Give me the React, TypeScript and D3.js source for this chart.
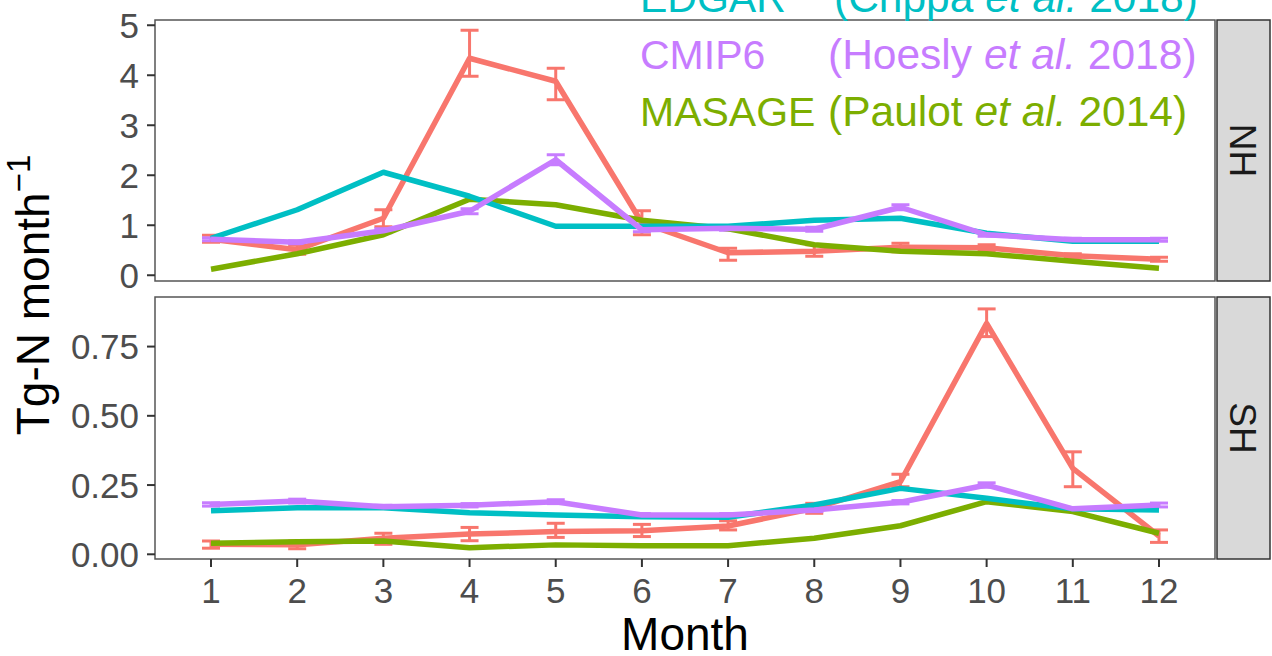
import React from 'react';
import * as d3 from 'd3';

const width = 1272;
const height = 656;
const margin = { left: 155, right: 57, top: 20 };
const panelRight = 1215;
const stripW = 53;

// months on the x axis
const months = [1, 2, 3, 4, 5, 6, 7, 8, 9, 10, 11, 12];

// Northern hemisphere (Tg-N month-1)
const nhRed = [0.72, 0.51, 1.14, 4.34, 3.88, 1.05, 0.45, 0.48, 0.56, 0.55, 0.39, 0.32];
const nhRedLo = [0.66, 0.42, 0.97, 3.98, 3.51, 0.81, 0.3, 0.38, 0.47, 0.48, 0.35, 0.28];
const nhRedHi = [0.8, 0.6, 1.31, 4.9, 4.14, 1.29, 0.54, 0.61, 0.64, 0.61, 0.43, 0.36];
const nhMasage = [0.12, 0.43, 0.81, 1.52, 1.41, 1.1, 0.93, 0.61, 0.48, 0.43, 0.28, 0.14];
const nhEdgar = [0.74, 1.31, 2.06, 1.58, 0.98, 0.98, 0.98, 1.1, 1.14, 0.84, 0.68, 0.68];
const nhCmip6 = [0.72, 0.66, 0.89, 1.28, 2.31, 0.91, 0.94, 0.92, 1.36, 0.81, 0.71, 0.71];
const nhCmip6Err = [0.03, 0.03, 0.04, 0.05, 0.1, 0.04, 0.04, 0.04, 0.05, 0.03, 0.03, 0.03];

// Southern hemisphere
const shRed = [0.036, 0.034, 0.058, 0.073, 0.082, 0.085, 0.102, 0.166, 0.262, 0.834, 0.31, 0.066];
const shRedLo = [0.022, 0.02, 0.036, 0.049, 0.061, 0.064, 0.088, 0.148, 0.244, 0.786, 0.244, 0.043];
const shRedHi = [0.048, 0.048, 0.076, 0.097, 0.112, 0.108, 0.121, 0.184, 0.289, 0.886, 0.37, 0.088];
const shMasage = [0.04, 0.045, 0.048, 0.024, 0.034, 0.031, 0.031, 0.058, 0.103, 0.19, 0.154, 0.076];
const shEdgar = [0.157, 0.168, 0.168, 0.15, 0.142, 0.136, 0.134, 0.178, 0.238, 0.202, 0.164, 0.16];
const shCmip6 = [0.18, 0.192, 0.172, 0.177, 0.19, 0.142, 0.142, 0.16, 0.188, 0.25, 0.164, 0.178];
const shCmip6Err = [0.006, 0.007, 0.005, 0.006, 0.007, 0.005, 0.005, 0.006, 0.006, 0.008, 0.005, 0.007];

const nhTicks = [0, 1, 2, 3, 4, 5];
const shTicks = [0, 0.25, 0.5, 0.75];

const colors = { red: '#F8766D', green: '#7CAE00', cyan: '#00BFC4', purple: '#C77CFF' };

const legendRows = [
  { name: 'EDGAR', author: 'Crippa', year: '2018', color: colors.cyan, cx: 834 },
  { name: 'CMIP6', author: 'Hoesly', year: '2018', color: colors.purple, cx: 828 },
  { name: 'MASAGE', author: 'Paulot', year: '2014', color: colors.green, cx: 828 }
];

const font = 'Liberation Sans, Arial, sans-serif';

const x = d3.scaleLinear().domain([0.35, 12.65]).range([margin.left, panelRight]);

function Panel({ top, bottom, domain, ticks, fmt, label, red, redLo, redHi, masage, edgar, cmip6, cmip6Err }) {
  const y = d3.scaleLinear().domain(domain).range([bottom, top]);
  const line = d3
    .line<number>()
    .x((d, i) => x(months[i]))
    .y(d => y(d));
  const half = 9;
  const series = [
    { v: red, c: colors.red },
    { v: masage, c: colors.green },
    { v: edgar, c: colors.cyan },
    { v: cmip6, c: colors.purple }
  ];
  const bars = [
    ...months.map((m, i) => ({ m, lo: redLo[i], hi: redHi[i], c: colors.red })),
    ...months.map((m, i) => ({ m, lo: cmip6[i] - cmip6Err[i], hi: cmip6[i] + cmip6Err[i], c: colors.purple }))
  ];
  return (
    <g>
      <rect x={margin.left} y={top} width={panelRight - margin.left} height={bottom - top} fill="white" />
      {bars.map((b, i) => (
        <g key={'e' + i} stroke={b.c} strokeWidth={3} fill="none">
          <line x1={x(b.m)} x2={x(b.m)} y1={y(b.lo)} y2={y(b.hi)} />
          <line x1={x(b.m) - half} x2={x(b.m) + half} y1={y(b.lo)} y2={y(b.lo)} />
          <line x1={x(b.m) - half} x2={x(b.m) + half} y1={y(b.hi)} y2={y(b.hi)} />
        </g>
      ))}
      {series.map((s, i) => (
        <path key={'l' + i} d={line(s.v)} fill="none" stroke={s.c} strokeWidth={5.5} strokeLinejoin="round" />
      ))}
      <rect
        x={margin.left}
        y={top}
        width={panelRight - margin.left}
        height={bottom - top}
        fill="none"
        stroke="#555"
        strokeWidth={1.5}
      />
      {ticks.map(t => (
        <g key={'t' + t}>
          <line x1={margin.left - 8} x2={margin.left} y1={y(t)} y2={y(t)} stroke="#333" strokeWidth={2} />
          <text
            x={margin.left - 16}
            y={y(t)}
            dy="0.36em"
            textAnchor="end"
            fontSize={35}
            fill="#4d4d4d"
            fontFamily={font}
          >
            {fmt(t)}
          </text>
        </g>
      ))}
      <rect
        x={panelRight + 2}
        y={top}
        width={stripW}
        height={bottom - top}
        fill="#d9d9d9"
        stroke="#333"
        strokeWidth={1.5}
      />
      <text
        transform={`translate(${panelRight + 2 + stripW / 2}, ${(top + bottom) / 2}) rotate(90)`}
        textAnchor="middle"
        dy="0.36em"
        fontSize={37}
        fill="#1a1a1a"
        fontFamily={font}
      >
        {label}
      </text>
    </g>
  );
}

export default function App() {
  const shBottom = 559;
  return (
    <svg width={width} height={height} style={{ position: 'absolute', left: 0, top: 0, background: 'white' }}>
      <Panel
        top={20}
        bottom={281}
        domain={[-0.115, 5.105]}
        ticks={nhTicks}
        fmt={d3.format('d')}
        label="NH"
        red={nhRed}
        redLo={nhRedLo}
        redHi={nhRedHi}
        masage={nhMasage}
        edgar={nhEdgar}
        cmip6={nhCmip6}
        cmip6Err={nhCmip6Err}
      />
      <Panel
        top={297}
        bottom={shBottom}
        domain={[-0.017, 0.929]}
        ticks={shTicks}
        fmt={d3.format('.2f')}
        label="SH"
        red={shRed}
        redLo={shRedLo}
        redHi={shRedHi}
        masage={shMasage}
        edgar={shEdgar}
        cmip6={shCmip6}
        cmip6Err={shCmip6Err}
      />
      {months.map(m => (
        <g key={'x' + m}>
          <line x1={x(m)} x2={x(m)} y1={shBottom} y2={shBottom + 8} stroke="#333" strokeWidth={2} />
          <text x={x(m)} y={603} textAnchor="middle" fontSize={35} fill="#4d4d4d" fontFamily={font}>
            {m}
          </text>
        </g>
      ))}
      <text x={(margin.left + panelRight) / 2} y={650} textAnchor="middle" fontSize={46} fill="black" fontFamily={font}>
        Month
      </text>
      <text
        transform={`translate(49, 295) rotate(-90)`}
        textAnchor="middle"
        fontSize={46}
        fill="black"
        fontFamily={font}
      >
        Tg-N month
        <tspan fontSize={33} dy={-19}>
          −1
        </tspan>
      </text>
      {legendRows.map((r, i) => (
        <g key={r.name} fontFamily={font} fill={r.color}>
          <text x={640} y={12 + i * 57} fontSize={41}>
            {r.name}
          </text>
          <text x={r.cx} y={12 + i * 57} fontSize={42.5}>
            ({r.author} <tspan fontStyle="italic">et al.</tspan> {r.year})
          </text>
        </g>
      ))}
    </svg>
  );
}
